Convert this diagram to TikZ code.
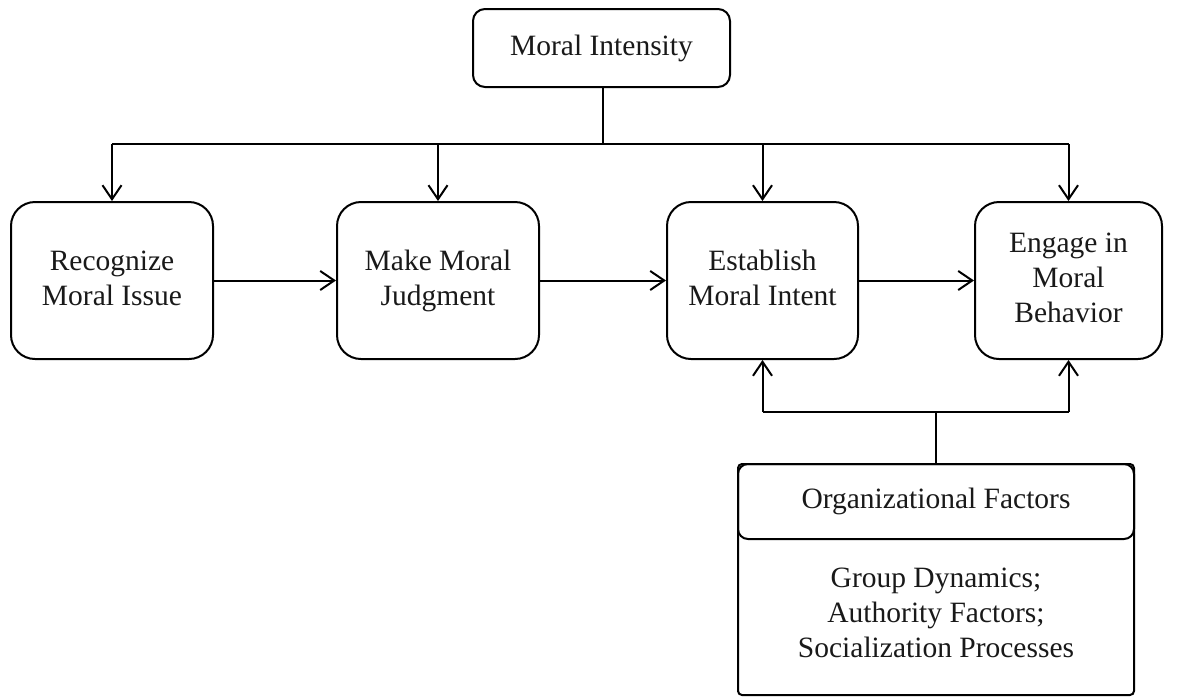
\documentclass[tikz,border=0pt]{standalone}
\usepackage{fontspec}
\setmainfont{Liberation Serif}
\usetikzlibrary{arrows.meta}
\newcommand{\ls}{\strut}
\begin{document}
\begin{tikzpicture}[x=1pt,y=-1pt,
  every node/.style={font=\fontsize{29.5}{35}\selectfont, text=black!90, align=center, inner sep=0pt},
  stepbox/.style={draw, line width=2pt, rounded corners=24pt, minimum height=157pt},
  topbox/.style={draw, line width=2pt, rounded corners=12pt, minimum width=257pt, minimum height=78pt},
  conn/.style={line width=2pt},
  arr/.style={line width=2pt, -{Straight Barb[length=14pt,width=19pt,line width=2pt]}}
]
\useasboundingbox (0,0) rectangle (1194,697);
\node[topbox] (mi) at (601.5,48) {\ls Moral Intensity};
\node[stepbox, minimum width=202pt] (r) at (112,280.5) {\ls Recognize\\\ls Moral Issue};
\node[stepbox, minimum width=202pt] (m) at (438,280.5) {\ls Make Moral\\\ls Judgment};
\node[stepbox, minimum width=191pt] (e) at (762.5,280.5) {\ls Establish\\\ls Moral Intent};
\node[stepbox, minimum width=187pt] (b) at (1068.5,280.5) {\ls Engage in\\\ls Moral\\\ls Behavior};
% organizational box
\draw[line width=2pt, rounded corners=4pt] (738,464) rectangle (1134,695);
\node[draw, line width=2pt, rounded corners=10pt, minimum width=396pt, minimum height=75pt] (of) at (936,501.5) {\ls Organizational Factors};
\node (ofl) at (936,615) {\ls Group Dynamics;\\\ls Authority Factors;\\\ls Socialization Processes};
\coordinate (ofc) at (936,464);
% top tree
\coordinate (j) at (603,144);
\draw[conn] (mi.south -| j) -- (j);
\draw[conn] (r.north |- j) -- (b.north |- j);
\draw[arr] (r.north |- j) -- (r.north);
\draw[arr] (m.north |- j) -- (m.north);
\draw[arr] (e.north |- j) -- (e.north);
\draw[arr] (b.north |- j) -- (b.north);
% horizontal flow
\draw[arr] (r.east) -- (m.west);
\draw[arr] (m.east) -- (e.west);
\draw[arr] (e.east) -- (b.west);
% bottom fork
\coordinate (k) at (936,412);
\draw[conn] (ofc) -- (k);
\draw[conn] (e.south |- k) -- (b.south |- k);
\draw[arr] (e.south |- k) -- (e.south);
\draw[arr] (b.south |- k) -- (b.south);
\end{tikzpicture}
\end{document}
